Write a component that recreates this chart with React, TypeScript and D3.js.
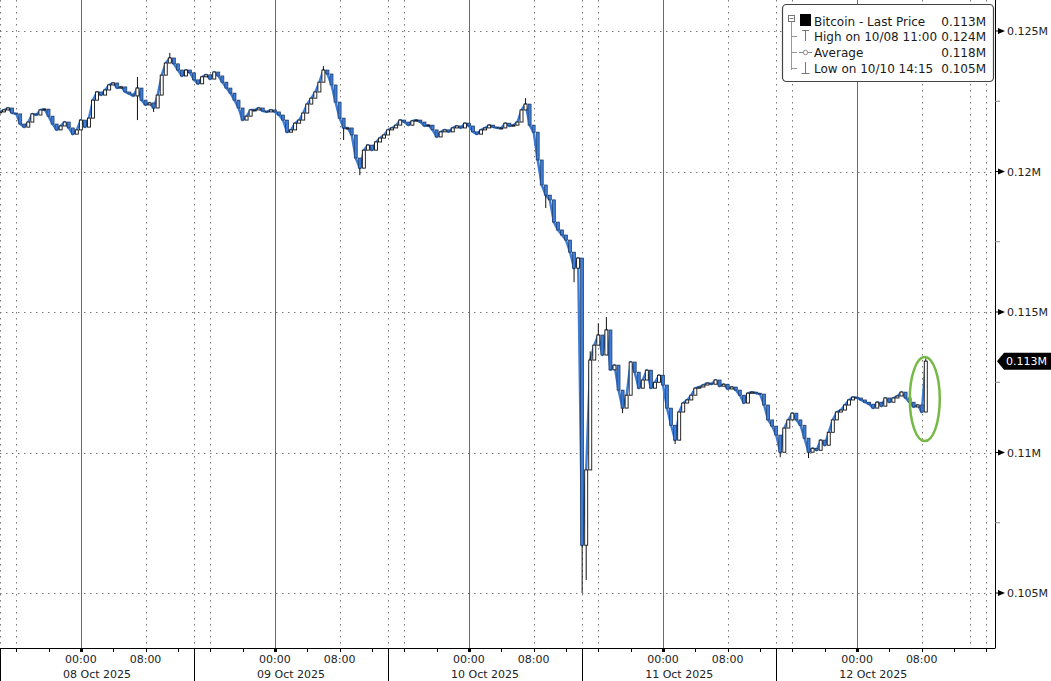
import React from "react";
import * as d3 from "d3";

// ---- data (prices in thousands of USD, 30-minute bars starting 07 Oct 2025 14:00) ----
const barStart = new Date(2025, 9, 7, 14, 0);
const barMinutes = 30;
const closes: number[] = [
  122.12, 122.19, 122.26, 122.08, 122.05, 121.69, 121.58, 121.76, 122.05, 122.01,
  122.19, 122.22, 121.97, 121.69, 121.48, 121.62, 121.76, 121.55, 121.33, 121.48,
  121.83, 121.58, 121.90, 122.54, 122.83, 122.72, 122.90, 123.08, 123.15, 122.97,
  123.01, 122.83, 122.76, 122.69, 122.97, 122.54, 122.37, 122.44, 122.26, 122.72,
  123.43, 123.86, 124.04, 123.83, 123.61, 123.40, 123.61, 123.51, 123.26, 123.12,
  123.37, 123.44, 123.29, 123.54, 123.40, 123.18, 122.97, 122.79, 122.54, 122.26,
  121.83, 121.97, 122.19, 122.19, 122.26, 122.15, 122.12, 122.19, 122.12, 122.01,
  121.83, 121.40, 121.48, 121.72, 121.83, 122.08, 122.40, 122.61, 122.83, 123.18,
  123.61, 123.47, 123.08, 122.47, 121.90, 121.55, 121.55, 121.30, 120.48, 120.12,
  120.76, 120.94, 120.76, 121.05, 121.19, 121.30, 121.48, 121.55, 121.65, 121.83,
  121.76, 121.65, 121.80, 121.83, 121.76, 121.62, 121.65, 121.48, 121.23, 121.41,
  121.48, 121.41, 121.55, 121.62, 121.55, 121.72, 121.62, 121.41, 121.33, 121.48,
  121.55, 121.65, 121.58, 121.55, 121.55, 121.72, 121.62, 121.65, 121.76, 122.19,
  122.40, 121.65, 121.40, 120.41, 119.52, 119.16, 118.99, 118.20, 117.92, 117.74,
  117.56, 117.13, 116.56, 116.92, 106.70, 109.38, 113.29, 113.82, 114.18, 113.47,
  114.36, 112.94, 113.11, 112.22, 111.58, 112.04, 113.22, 112.86, 112.29, 112.58,
  112.93, 112.29, 112.50, 112.75, 112.40, 111.58, 110.97, 110.44, 111.44, 111.76,
  111.87, 112.04, 112.29, 112.33, 112.40, 112.47, 112.43, 112.58, 112.36, 112.43,
  112.26, 112.33, 112.22, 112.04, 111.76, 112.11, 112.15, 112.11, 112.08, 111.69,
  111.16, 110.94, 110.62, 110.01, 110.87, 111.16, 111.40, 111.16, 110.97, 110.51,
  110.01, 110.15, 110.08, 110.44, 110.26, 110.72, 111.16, 111.44, 111.51, 111.69,
  111.87, 111.97, 111.94, 111.87, 111.79, 111.72, 111.58, 111.79, 111.65, 111.94,
  111.79, 111.94, 112.01, 112.15, 111.94, 111.79, 111.62, 111.69, 111.44, 113.25,
];
// notable intrabar extremes [bar index, price]
const wickHighs: [number, number][] = [
  [34, 123.36], [42, 124.22], [80, 123.75], [130, 122.61], [146, 113.6],
  [148, 114.6], [150, 114.82], [229, 113.35],
];
const wickLows: [number, number][] = [
  [34, 121.83], [38, 122.12], [85, 121.12], [89, 119.87], [135, 118.7],
  [142, 116.06], [144, 105.0], [145, 105.46], [154, 111.4], [167, 110.3],
  [193, 109.83], [200, 109.8],
];
const yTicks = [105, 110, 115, 120, 125];
const yTickLabels = ["0.105M", "0.11M", "0.115M", "0.12M", "0.125M"];
const yMinorTicks = [107.5, 112.5, 117.5, 122.5];
const days = [8, 9, 10, 11, 12];
const legendRows = [
  { label: "Bitcoin - Last Price", value: "0.113M" },
  { label: "High on 10/08 11:00", value: "0.124M" },
  { label: "Average", value: "0.118M" },
  { label: "Low on 10/10 14:15", value: "0.105M" },
];
const lastPriceLabel = "0.113M";

const W = 1051;
const H = 681;
const AXIS_X = 995;
const AXIS_Y = 648;
const FONT = "'DejaVu Sans', Verdana, sans-serif";
const BLUE = "#3b7dd8";

export default function App() {
  const x = d3
    .scaleTime()
    .domain([new Date(2025, 9, 7, 14), new Date(2025, 9, 12, 17)])
    .range([0, 994.5]);
  const y = d3.scaleLinear().domain([105, 125]).range([593, 31]);

  const bars = closes.map((c, i) => {
    const o = i === 0 ? c : closes[i - 1];
    let hi = Math.max(o, c);
    let lo = Math.min(o, c);
    wickHighs.forEach(([k, v]) => { if (k === i) hi = Math.max(hi, v); });
    wickLows.forEach(([k, v]) => { if (k === i) lo = Math.min(lo, v); });
    return { t: d3.timeMinute.offset(barStart, barMinutes * i), o, c, hi, lo };
  });

  const line = d3
    .line<{ t: Date; c: number }>()
    .x((d) => x(d.t))
    .y((d) => y(d.c));

  const [d0, d1] = x.domain();
  const hours4 = d3.timeHour.every(4)!.range(d0, d1);
  const solidLines = hours4.filter((d) => d.getHours() === 0);
  const dottedLines = hours4.filter((d) => d.getHours() === 8 || d.getHours() === 16);
  const boundaries = d3.timeHour.range(d0, d1).filter((d) => d.getHours() === 14);
  const fmtHour = d3.timeFormat("%H:%M");
  const fmtDay = d3.timeFormat("%d %b %Y");

  const last = bars[bars.length - 1];
  const lastY = y(last.c);
  const lastX = x(last.t);
  const bw = 3;

  return (
    <svg
      width={W}
      height={H}
      style={{ position: "absolute", left: 0, top: 0, background: "#fff" }}
      fontFamily={FONT}
    >
      <rect x={0} y={0} width={W} height={H} fill="#fff" />
      {/* horizontal gridlines */}
      {yTicks.map((v) => (
        <line key={"hg" + v} x1={0} x2={AXIS_X} y1={Math.round(y(v)) + 0.5} y2={Math.round(y(v)) + 0.5}
          stroke="#7a7a7a" strokeWidth={1} strokeDasharray="1.5 4.5" />
      ))}
      {/* vertical gridlines */}
      {[...dottedLines, ...boundaries].map((d, i) => (
        <line key={"vd" + i} x1={Math.round(x(d)) + 0.5} x2={Math.round(x(d)) + 0.5} y1={0} y2={AXIS_Y}
          stroke="#7a7a7a" strokeWidth={1} strokeDasharray="1.5 4.5" />
      ))}
      {solidLines.map((d, i) => (
        <line key={"vs" + i} x1={Math.round(x(d)) + 0.5} x2={Math.round(x(d)) + 0.5} y1={0} y2={AXIS_Y}
          stroke="#6a6a6a" strokeWidth={1} />
      ))}

      {/* price line */}
      <path d={line(bars) || ""} fill="none" stroke={BLUE} strokeWidth={2.4} strokeLinejoin="round" />

      {/* candles */}
      {bars.map((b, i) => {
        const cx = x(b.t);
        const up = b.c >= b.o;
        const top = y(Math.max(b.o, b.c));
        const bot = y(Math.min(b.o, b.c));
        return (
          <g key={"c" + i}>
            <line x1={cx} x2={cx} y1={y(b.hi)} y2={y(b.lo)} stroke="#111" strokeWidth={1} />
            <rect x={cx - bw / 2} y={top} width={bw} height={Math.max(1, bot - top)}
              fill={up ? "#fff" : BLUE} stroke={up ? "#111" : "#1c355f"} strokeWidth={up ? 0.9 : 0.7} />
          </g>
        );
      })}

      {/* highlight ellipse */}
      <ellipse cx={lastX - 1} cy={y(111.9)} rx={15} ry={42} fill="none" stroke="#76b947" strokeWidth={2.5} />

      {/* right axis */}
      <line x1={AXIS_X + 0.5} x2={AXIS_X + 0.5} y1={0} y2={AXIS_Y} stroke="#000" strokeWidth={1} />
      {yMinorTicks.map((v) => (
        <line key={"ym" + v} x1={AXIS_X} x2={AXIS_X + 5} y1={y(v)} y2={y(v)} stroke="#888" strokeWidth={1} />
      ))}
      {yTicks.map((v, i) => (
        <g key={"yt" + v}>
          <line x1={AXIS_X} x2={AXIS_X + 3} y1={y(v)} y2={y(v)} stroke="#000" />
          <polygon points={`${AXIS_X + 3},${y(v) - 3} ${AXIS_X + 10},${y(v)} ${AXIS_X + 3},${y(v) + 3}`} fill="#000" />
          <text x={AXIS_X + 12} y={y(v) + 4} fontSize={11} fill="#222">{yTickLabels[i]}</text>
        </g>
      ))}
      {/* last price tag */}
      <polygon
        points={`${AXIS_X + 2},${lastY} ${AXIS_X + 9},${lastY - 8.5} ${W},${lastY - 8.5} ${W},${lastY + 8.5} ${AXIS_X + 9},${lastY + 8.5}`}
        fill="#000"
      />
      <text x={AXIS_X + 11} y={lastY + 4} fontSize={11} fill="#fff">{lastPriceLabel}</text>

      {/* bottom axis */}
      <rect x={0} y={AXIS_Y + 0.5} width={W} height={H - AXIS_Y} fill="#fff" />
      <line x1={0} x2={AXIS_X + 0.5} y1={AXIS_Y + 0.5} y2={AXIS_Y + 0.5} stroke="#000" strokeWidth={1} />
      {hours4.map((d, i) => (
        <line key={"xt" + i} x1={Math.round(x(d)) + 0.5} x2={Math.round(x(d)) + 0.5} y1={AXIS_Y} y2={AXIS_Y + 4}
          stroke="#000" strokeWidth={1} />
      ))}
      {solidLines.map((d, i) => (
        <rect key={"xm" + i} x={Math.round(x(d)) - 1} y={AXIS_Y} width={3} height={4} fill="#000" />
      ))}
      {boundaries.filter((d) => x(d) < 960).map((d, i) => (
        <line key={"xb" + i} x1={Math.round(x(d)) + 0.5} x2={Math.round(x(d)) + 0.5} y1={AXIS_Y} y2={H}
          stroke="#000" strokeWidth={1} />
      ))}
      {days.map((dd) => {
        const mid = new Date(2025, 9, dd, 0);
        const eight = new Date(2025, 9, dd, 8);
        const center = new Date(2025, 9, dd, 2);
        return (
          <g key={"day" + dd} fontSize={11} fill="#222">
            <text x={x(mid)} y={663} textAnchor="middle">{fmtHour(mid)}</text>
            <text x={x(eight)} y={663} textAnchor="middle">{fmtHour(eight)}</text>
            <text x={x(center)} y={678} textAnchor="middle">{fmtDay(mid)}</text>
          </g>
        );
      })}

      {/* legend */}
      <g>
        <rect x={782.5} y={4.5} width={211} height={77} rx={4} fill="#fff" stroke="#444" strokeWidth={1.2} />
        <rect x={788.5} y={15.5} width={6} height={6} fill="#fff" stroke="#777" strokeWidth={1} />
        <line x1={789.5} x2={793.5} y1={18.5} y2={18.5} stroke="#777" />
        <line x1={791.5} x2={791.5} y1={22} y2={70} stroke="#999" strokeWidth={1} />
        {[36, 52, 68].map((ry) => (
          <line key={"tr" + ry} x1={791.5} x2={797} y1={ry + 0.5} y2={ry + 0.5} stroke="#999" strokeWidth={1} />
        ))}
        <rect x={800} y={14} width={11} height={12} fill="#000" />
        {/* high icon */}
        <line x1={802} x2={809} y1={30.5} y2={30.5} stroke="#777" />
        <line x1={805.5} x2={805.5} y1={30.5} y2={41} stroke="#777" />
        {/* average icon */}
        <line x1={799} x2={812} y1={52.5} y2={52.5} stroke="#888" />
        <circle cx={805.5} cy={52.5} r={2.2} fill="#fff" stroke="#888" />
        {/* low icon */}
        <line x1={805.5} x2={805.5} y1={62} y2={73} stroke="#777" />
        <line x1={801.5} x2={809.5} y1={73.5} y2={73.5} stroke="#777" />
        {legendRows.map((r, i) => (
          <g key={"lg" + i} fontSize={12} fill="#1a1a1a">
            <text x={814} y={[26, 41, 57, 73][i]}>{r.label}</text>
            <text x={986} y={[26, 41, 57, 73][i]} textAnchor="end">{r.value}</text>
          </g>
        ))}
      </g>
    </svg>
  );
}
